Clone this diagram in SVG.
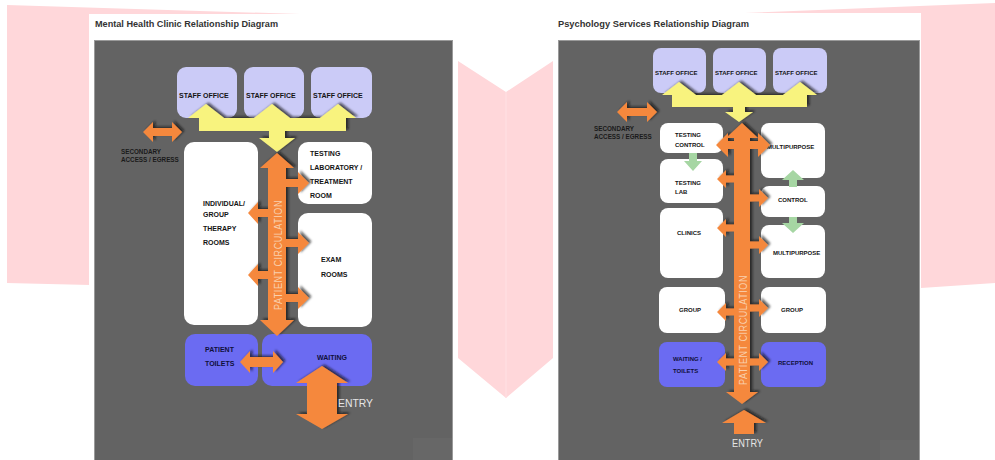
<svg xmlns="http://www.w3.org/2000/svg" width="995" height="460" viewBox="0 0 995 460">
<defs>
<filter id="sh" x="-30%" y="-30%" width="160%" height="160%">
<feDropShadow dx="2.5" dy="-1.5" stdDeviation="0.8" flood-color="#151515" flood-opacity="0.7"/>
</filter>
<style>
.pink{fill:#ffd7da}
.panel{fill:#ffffff}
.gray{fill:#636363;stroke:#9a9a9a;stroke-width:1}
.title{font-family:"Liberation Sans",Arial,sans-serif;font-weight:bold;font-size:9.5px;fill:#333}
.staff{fill:#cbcbf7}
.room{fill:#ffffff}
.blue{fill:#6b6bf2}
.lbl{font-family:"Liberation Sans",Arial,sans-serif;font-weight:bold;fill:#141414}
.l7{font-size:7px}
.l6{font-size:6px}
.nav{fill:#10103a}
.orange{fill:#f5883e}
.yellow{fill:#f8f37e}
.green{fill:#a6d6a3}
.circ{font-family:"Liberation Sans",Arial,sans-serif;font-size:10px;fill:#f9d0ae;letter-spacing:0.6px}
.entry{font-family:"Liberation Sans",Arial,sans-serif;fill:#e6e6e6}
.sec{font-family:"Liberation Sans",Arial,sans-serif;font-weight:bold;font-size:6.3px;fill:#1a1a1a}
</style>
</defs>
<rect width="995" height="460" fill="#ffffff"/>
<g id="background">
<polygon class="pink" points="7,5 300,14 300,290 7,283"/>
<polygon class="pink" points="745,13 995,3 995,283 921,288 921,13"/>
<polygon class="pink" points="458,61 506,92 553,61 553,358 506,398 458,358"/>
<line x1="506" y1="92" x2="506" y2="398" stroke="#ffe1e4" stroke-width="1"/>
</g>
<g id="panel-left">
<rect class="panel" x="89" y="14" width="366" height="446"/>
<text class="title" x="95" y="27" textLength="183" lengthAdjust="spacingAndGlyphs">Mental Health Clinic Relationship Diagram</text>
<rect class="gray" x="94.5" y="40.5" width="358" height="425"/>
<rect x="413" y="438" width="39" height="22" fill="#676767"/>
</g>
<g id="panel-right">
<rect class="panel" x="556" y="13" width="365" height="447"/>
<text class="title" x="558" y="26.5" textLength="191" lengthAdjust="spacingAndGlyphs">Psychology Services Relationship Diagram</text>
<rect class="gray" x="558.5" y="40.5" width="361" height="425"/>
<rect x="880" y="440" width="39" height="20" fill="#676767"/>
</g>

<!-- left diagram nodes -->
<g id="l-staff-1"><rect class="staff" x="177" y="67" width="60" height="51" rx="9"/><text class="lbl l7" x="179" y="97.5">STAFF OFFICE</text></g>
<g id="l-staff-2"><rect class="staff" x="244" y="67" width="60" height="51" rx="9"/><text class="lbl l7" x="246" y="97.5">STAFF OFFICE</text></g>
<g id="l-staff-3"><rect class="staff" x="311" y="67" width="61" height="51" rx="9"/><text class="lbl l7" x="313" y="97.5">STAFF OFFICE</text></g>
<g id="l-therapy"><rect class="room" x="184" y="142" width="74" height="183" rx="10"/>
<text class="lbl l7" x="203" y="206">INDIVIDUAL/</text><text class="lbl l7" x="203" y="217">GROUP</text><text class="lbl l7" x="203" y="231">THERAPY</text><text class="lbl l7" x="203" y="245">ROOMS</text></g>
<g id="l-testing"><rect class="room" x="298" y="142" width="74" height="62" rx="10"/>
<text class="lbl l7" x="310" y="155.5">TESTING</text><text class="lbl l7" x="310" y="169.5">LABORATORY /</text><text class="lbl l7" x="310" y="183.5">TREATMENT</text><text class="lbl l7" x="310" y="197.5">ROOM</text></g>
<g id="l-exam"><rect class="room" x="298" y="213" width="74" height="114" rx="10"/>
<text class="lbl l7" x="321" y="261.5">EXAM</text><text class="lbl l7" x="321" y="276.5">ROOMS</text></g>
<g id="l-toilets"><rect class="blue" x="185" y="334" width="73" height="52" rx="10"/>
<text class="lbl l7 nav" x="205" y="351.5">PATIENT</text><text class="lbl l7 nav" x="205" y="365.5">TOILETS</text></g>
<g id="l-waiting"><rect class="blue" x="262" y="334" width="110" height="52" rx="10"/>
<text class="lbl l7 nav" x="317" y="359.5">WAITING</text></g>

<!-- right diagram nodes -->
<g id="r-staff-1"><rect class="staff" x="653" y="48" width="53" height="45" rx="8"/><text class="lbl l6" x="655" y="75">STAFF OFFICE</text></g>
<g id="r-staff-2"><rect class="staff" x="713" y="48" width="53" height="45" rx="8"/><text class="lbl l6" x="715" y="75">STAFF OFFICE</text></g>
<g id="r-staff-3"><rect class="staff" x="773" y="48" width="54" height="45" rx="8"/><text class="lbl l6" x="775" y="75">STAFF OFFICE</text></g>
<g id="r-testing-control"><rect class="room" x="660" y="123" width="63" height="30" rx="8"/>
<text class="lbl l6" x="675" y="137">TESTING</text><text class="lbl l6" x="675" y="147">CONTROL</text></g>
<g id="r-testing-lab"><rect class="room" x="660" y="159" width="63" height="44" rx="8"/>
<text class="lbl l6" x="675" y="185">TESTING</text><text class="lbl l6" x="675" y="194">LAB</text></g>
<g id="r-clinics"><rect class="room" x="660" y="208" width="63" height="70" rx="8"/>
<text class="lbl l6" x="677" y="235">CLINICS</text></g>
<g id="r-multi-1"><rect class="room" x="761" y="123" width="64" height="55" rx="8"/>
<text class="lbl l6" x="767" y="149">MULTIPURPOSE</text></g>
<g id="r-control"><rect class="room" x="761" y="186" width="64" height="31" rx="8"/>
<text class="lbl l6" x="778" y="202">CONTROL</text></g>
<g id="r-multi-2"><rect class="room" x="761" y="225" width="64" height="53" rx="8"/>
<text class="lbl l6" x="773" y="255">MULTIPURPOSE</text></g>
<g id="r-group-l"><rect class="room" x="659" y="287" width="66" height="46" rx="8"/>
<text class="lbl l6" x="679" y="312">GROUP</text></g>
<g id="r-group-r"><rect class="room" x="761" y="287" width="65" height="46" rx="8"/>
<text class="lbl l6" x="781" y="312">GROUP</text></g>
<g id="r-waiting"><rect class="blue" x="659" y="342" width="66" height="45" rx="8"/>
<text class="lbl l6 nav" x="673" y="361">WAITING /</text><text class="lbl l6 nav" x="673" y="373">TOILETS</text></g>
<g id="r-reception"><rect class="blue" x="761" y="342" width="65" height="45" rx="8"/>
<text class="lbl l6 nav" x="778" y="365">RECEPTION</text></g>

<g id="connectors">
<g filter="url(#sh)">
<path class="yellow" d="M188,118 L206,104 L224,118 Z M254,118 L272,104 L290,118 Z M320,118 L338,104 L356,118 Z M199,118 H346 V131 H199 Z M269,131 H285 V138 H269 Z M259,138 H295 L277,152 Z"/>
<path class="yellow" d="M662,95 L679,82 L696,95 Z M722,95 L739,82 L756,95 Z M783,95 L800,82 L817,95 Z M672,95 H807 V107 H672 Z M733,107 H745 V112 H733 Z M725,112 H753 L739,122 Z"/>
</g>
<g filter="url(#sh)">
<polygon class="orange" points="277,153 294,168 286,168 286,320 294,320 277,336 260,320 268,320 268,168 260,168"/>
<polygon class="orange" points="268,209 258,209 258,202 248,213 258,224 258,217 268,217"/>
<polygon class="orange" points="268,271 258,271 258,264 248,275 258,286 258,279 268,279"/>
<polygon class="orange" points="286,179 298,179 298,172 309,183 298,194 298,187 286,187"/>
<polygon class="orange" points="286,239 298,239 298,232 309,243 298,254 298,247 286,247"/>
<polygon class="orange" points="286,294 298,294 298,287 309,298 298,309 298,302 286,302"/>
<polygon class="orange" points="143,132 153,122 153,128 172,128 172,122 182,132 172,142 172,136 153,136 153,142"/>
<polygon class="orange" points="240,362 250,351 250,357 273,357 273,351 283,362 273,373 273,367 250,367 250,373"/>
<polygon class="orange" points="322,366 348,383 337,383 337,414 348,414 322,429 296,414 307,414 307,383 296,383"/>

<polygon class="orange" points="742,123 758,138 750,138 750,392 758,392 742,404 726,392 734,392 734,138 726,138"/>
<polygon class="orange" points="716,145 728,133 728,141 758,141 758,133 770,145 758,157 758,149 728,149 728,157"/>
<polygon class="orange" points="734,175.5 726,175.5 726,170 717,179 726,188 726,182.5 734,182.5"/>
<polygon class="orange" points="734,224.5 726,224.5 726,219 717,228 726,237 726,231.5 734,231.5"/>
<polygon class="orange" points="734,308.5 726,308.5 726,303 717,312 726,321 726,315.5 734,315.5"/>
<polygon class="orange" points="734,358.5 726,358.5 726,353 717,362 726,371 726,365.5 734,365.5"/>
<polygon class="orange" points="750,194.5 759,194.5 759,189 768,198 759,207 759,201.5 750,201.5"/>
<polygon class="orange" points="750,241.5 759,241.5 759,236 768,245 759,254 759,248.5 750,248.5"/>
<polygon class="orange" points="750,304.5 759,304.5 759,299 768,308 759,317 759,311.5 750,311.5"/>
<polygon class="orange" points="750,358.5 759,358.5 759,353 768,362 759,371 759,365.5 750,365.5"/>
<polygon class="orange" points="617,112 627,102 627,108 647,108 647,102 657,112 647,122 647,116 627,116 627,122"/>
<polygon class="orange" points="744,410 766,423 754,423 754,434 734,434 734,423 722,423"/>
</g>
<polygon class="green" points="689,153 697,153 697,161 702,161 693,171 684,161 689,161"/>
<polygon class="green" points="793,170 804,180 797,180 797,187 789,187 789,180 782,180"/>
<polygon class="green" points="789,217 797,217 797,223 804,223 793,233 782,223 789,223"/>
<text class="circ" transform="translate(278,255) rotate(-90)" text-anchor="middle" dominant-baseline="central" textLength="110" lengthAdjust="spacingAndGlyphs">PATIENT CIRCULATION</text>
<text class="circ" transform="translate(743,330) rotate(-90)" text-anchor="middle" dominant-baseline="central" textLength="110" lengthAdjust="spacingAndGlyphs">PATIENT CIRCULATION</text>
<text class="entry" x="338" y="407" font-size="11" textLength="35" lengthAdjust="spacingAndGlyphs">ENTRY</text>
<text class="entry" x="732" y="447" font-size="10" textLength="31" lengthAdjust="spacingAndGlyphs">ENTRY</text>
<text class="sec" x="121" y="153.5">SECONDARY</text>
<text class="sec" x="121" y="161.5">ACCESS / EGRESS</text>
<text class="sec" x="594" y="131" font-size="5.8">SECONDARY</text>
<text class="sec" x="594" y="139" font-size="5.8">ACCESS / EGRESS</text>
</g>
</svg>
